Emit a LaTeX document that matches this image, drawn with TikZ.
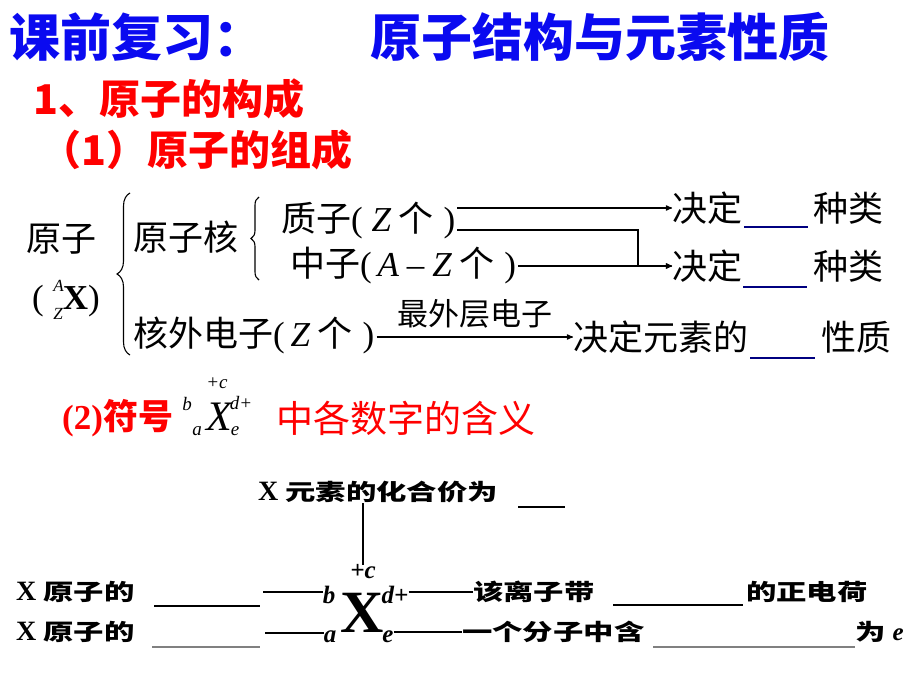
\documentclass[tikz,border=0pt]{standalone}
\usepackage{fontspec}
\usepackage{tikz}
\usetikzlibrary{arrows,decorations.pathreplacing,positioning,calc}
\setmainfont{Liberation Serif}
\newfontfamily\cjk{Noto Sans CJK SC}
\newfontfamily\cjkwide[FakeStretch=1.35]{Noto Sans CJK SC}
\newcommand\lat[1]{{\rmfamily\itshape #1}}
\definecolor{titleblue}{RGB}{10,10,240}
\definecolor{blankblue}{RGB}{0,0,128}
\tikzset
{
    titlenode/.style  = {anchor=west, inner sep=0pt, text=titleblue, font=\cjk\bfseries\fontsize{51}{55}\selectfont},
    headnode/.style   = {anchor=west, inner sep=0pt, text=red, font=\cjk\bfseries\fontsize{41}{45}\selectfont},
    textnode/.style   = {anchor=west, inner sep=0pt, font=\cjk\fontsize{35}{40}\selectfont},
    labelnode/.style  = {inner sep=0pt, font=\cjk\fontsize{31}{34}\selectfont},
    symnode/.style    = {inner sep=0pt, font=\itshape\fontsize{19}{21}\selectfont},
    smallnode/.style  = {anchor=west, inner sep=0pt, font=\cjkwide\bfseries\fontsize{22.5}{26}\selectfont},
    scriptnode/.style = {inner sep=0pt, font=\bfseries\itshape\fontsize{25}{27}\selectfont},
    blank/.style      = {line width=2.2pt, draw=blankblue},
    fillin/.style     = {line width=1.3pt},
    link/.style       = {line width=1.2pt}
}

\begin{document}
\begin{tikzpicture}[x=1pt, y=-1pt, >=stealth']
    \useasboundingbox (0,0) rectangle (920,690);
    \node [titlenode] (review) at (9,37) {课前复习：};
    \node [titlenode] (topic) at (370,37) {原子结构与元素性质};
    \node [headnode] (sec1) at (33,99) {1、原子的构成};
    \node [headnode] (sub1) at (40,150) {（1）原子的组成};

    \node [textnode] (atom) at (26,239) {原子};
    \node [textnode, anchor=center] (nuclide) at (66,300) {{\rmfamily(\;\makebox[0pt][l]{\raisebox{0.5em}{\fontsize{17}{17}\selectfont\itshape A}}\raisebox{-0.3em}{\fontsize{17}{17}\selectfont\itshape Z}\textbf{X})}};
    \draw [decorate, decoration={brace, amplitude=13pt}, line width=1.1pt] (130,355) -- (130,193);
    \node [textnode] (nucleus) at (133,237) {原子核};
    \draw [decorate, decoration={brace, amplitude=8pt}, line width=1.1pt] (259,280) -- (259,197);
    \node [textnode] (proton) at (281,221) {质子{\rmfamily(\ }\lat{Z}\ 个{\rmfamily\;)}};
    \node [textnode] (neutron) at (290,266) {中子{\rmfamily(\,}\lat{A}\ {\rmfamily –}\ \lat{Z}\ 个{\rmfamily\;)}};
    \node [textnode] (electron) at (133,335) {核外电子{\rmfamily(\,}\lat{Z}\ 个{\rmfamily\;)}};

    \node [textnode] (decide1) at (672,208) {决定};
    \node [textnode] (kind1) at (813,208) {种类};
    \node [textnode] (decide2) at (672,266) {决定};
    \node [textnode] (kind2) at (813,266) {种类};
    \node [textnode] (decide3) at (573,337) {决定元素的};
    \node [textnode] (prop) at (821,337) {性质};

    \coordinate (bend) at (638,230);
    \draw [link, ->] ([xshift=2pt]proton.east |- decide1.west) -- (decide1.west);
    \draw [link, ->] ([xshift=2pt]proton.east |- bend) -- (bend) |- (decide2.west);
    \draw [link, ->] ([xshift=2pt]neutron.east) -- (decide2.west);
    \draw [link, ->] ([xshift=2pt]electron.east |- decide3.west) -- node [labelnode, above=8pt] (outer) {最外层电子} (decide3.west);

    \draw [blank] (744,227) -- (808,227);
    \draw [blank] (743,287) -- (807,287);
    \draw [blank] (750,358) -- (815,358);

    \node [headnode, font=\bfseries\fontsize{35}{40}\selectfont] (sec2) at (62,418) {(2){\cjk 符号}};
    \node [symnode, font=\itshape\fontsize{42}{44}\selectfont] (symX) at (219,417) {X};
    \node [symnode] (symb) at (187,404) {b};
    \node [symnode] (syma) at (197,431) {a};
    \node [symnode] (symc) at (217,383) {+c};
    \node [symnode] (symd) at (241,403) {d+};
    \node [symnode] (syme) at (235,431) {e};
    \node [headnode, font=\cjk\fontsize{37}{40}\selectfont] (meaning) at (276,418) {中各数字的含义};

    \node [smallnode] (valence) at (258,492) {{\rmfamily\fontsize{28}{30}\selectfont X}\ 元素的化合价为};
    \draw [fillin] (518,507) -- (565,507);
    \node [scriptnode] (plusc) at (363,572) {+c};
    \draw [link] (plusc.north) -- (plusc.north |- valence.south);
    \node [scriptnode, font=\bfseries\fontsize{60}{60}\selectfont] (bigX) at (362,613) {X};
    \node [scriptnode] (subb) at (329,595) {b};
    \node [scriptnode] (subd) at (395,595) {d+};
    \node [scriptnode] (suba) at (330,637) {a};
    \node [scriptnode] (sube) at (388,637) {e};

    \node [smallnode] (mass) at (16,592) {{\rmfamily\fontsize{28}{30}\selectfont X}\ 原子的};
    \node [smallnode] (proto) at (16,632) {{\rmfamily\fontsize{28}{30}\selectfont X}\ 原子的};
    \draw [fillin] (154,606) -- (260,606);
    \draw [fillin, gray] (152,647) -- (260,647);
    \coordinate (lb) at (263,592);
    \coordinate (la) at (265,633);
    \draw [link] (lb) -- (lb -| subb.west);
    \draw [link] (la) -- (la -| suba.west);

    \node [smallnode] (charge) at (473,592) {该离子带};
    \draw [link] (subd.east |- charge.west) -- (charge.west);
    \draw [fillin] (613,605) -- (743,605);
    \node [smallnode] (pos) at (746,592) {的正电荷};
    \node [smallnode] (count) at (462,632) {一个分子中含};
    \draw [link] (sube.east |- count.west) -- (count.west);
    \draw [fillin, gray] (653,647) -- (855,647);
    \node [smallnode] (ise) at (855,632) {为\ {\rmfamily\itshape\fontsize{25}{27}\selectfont e}};
\end{tikzpicture}
\end{document}
